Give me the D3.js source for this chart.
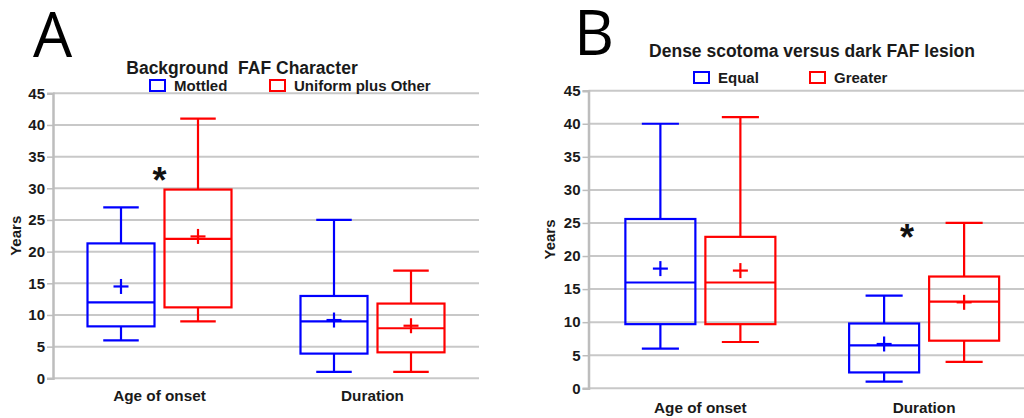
<!DOCTYPE html>
<html>
<head>
<meta charset="utf-8">
<script src="https://cdn.jsdelivr.net/npm/d3@7"></script>
<style>
  html, body { margin: 0; padding: 0; background: #fff; }
  svg { display: block; font-family: 'Liberation Sans', Arial, sans-serif; }
  .lbl { font-weight: bold; fill: #1a1a1a; }
</style>
</head>
<body>
<div id="chart"></div>
<script>
// Box stats per group: [min, q1, median, q3, max, mean], one row per category
const categories = ['Age of onset', 'Duration'];
const yTicks = [0, 5, 10, 15, 20, 25, 30, 35, 40, 45];

const mottled = [[6, 8.2, 12, 21.3, 27, 14.5], [1, 3.9, 9, 13, 25, 9.2]];
const uniformOther = [[9, 11.2, 22, 29.8, 41, 22.4], [1, 4.1, 7.9, 11.8, 17, 8.3]];
const equal = [[6, 9.7, 16, 25.6, 40, 18.1], [1, 2.4, 6.5, 9.8, 14, 6.7]];
const greater = [[7, 9.7, 16, 22.9, 41, 17.8], [4, 7.2, 13.1, 16.9, 25, 13]];

const groupNamesA = ['Mottled', 'Uniform plus Other'];
const groupNamesB = ['Equal', 'Greater'];
const groupColors = ['#0000ff', '#ff0000'];

// significance stars: [category index, y value]
const starA = [0, 32.4];
const starB = [1, 23.9];

const svg = d3.select('#chart').append('svg').attr('width', 1024).attr('height', 418);

const panels = [
  {
    letter: 'A', letterX: 33, letterY: 57,
    title: 'Background  FAF Character', titleX: 242, titleY: 74,
    names: groupNamesA, series: [mottled, uniformOther],
    legend: [149, 269], legendY: 79,
    left: 53, right: 479, top: 93.3, bottom: 378.3,
    boxW: 67, catY: 401, yearsX: 21,
    star: starA, starDx: 0,
  },
  {
    letter: 'B', letterX: 574, letterY: 55,
    title: 'Dense scotoma versus dark FAF lesion', titleX: 812, titleY: 57,
    names: groupNamesB, series: [equal, greater],
    legend: [693, 809], legendY: 71,
    left: 588.5, right: 1036, top: 90.7, bottom: 388.3,
    boxW: 70, catY: 413, yearsX: 555,
    star: starB, starDx: -17,
  },
];

panels.forEach((p) => {
  const g = svg.append('g');

  const y = d3.scaleLinear().domain([0, 45]).range([p.bottom, p.top]);
  const x = d3.scaleBand().domain(categories).range([p.left, p.right]);
  const gap = 10;
  const half = p.boxW + gap / 2;
  const xSub = d3.scaleBand().domain([0, 1])
    .range([-half, half])
    .paddingInner(gap / (p.boxW + gap));

  // gridlines
  g.append('g')
    .selectAll('line')
    .data(yTicks)
    .join('line')
    .attr('x1', p.left)
    .attr('x2', Math.min(p.right, 1024))
    .attr('y1', (d) => y(d))
    .attr('y2', (d) => y(d))
    .attr('stroke', '#c8c8c8')
    .attr('stroke-width', 2);

  // y axis
  const yAxis = g.append('g')
    .attr('transform', `translate(${p.left},0)`)
    .call(d3.axisLeft(y).tickValues(yTicks).tickSize(6).tickPadding(2));
  yAxis.select('.domain').attr('stroke', '#bdbdbd').attr('stroke-width', 2.5);
  yAxis.selectAll('.tick line').attr('stroke', '#bdbdbd').attr('stroke-width', 1.5);
  yAxis.selectAll('.tick text')
    .attr('class', 'lbl')
    .style('font-size', '15px')
    .attr('fill', '#1a1a1a');

  g.append('text')
    .attr('class', 'lbl')
    .attr('transform', `translate(${p.yearsX},${(p.top + p.bottom) / 2}) rotate(-90)`)
    .attr('text-anchor', 'middle')
    .style('font-size', '15px')
    .text('Years');

  // category labels
  g.selectAll('.cat')
    .data(categories)
    .join('text')
    .attr('class', 'lbl')
    .attr('x', (d) => x(d) + x.bandwidth() / 2)
    .attr('y', p.catY)
    .attr('text-anchor', 'middle')
    .style('font-size', '15.3px')
    .text((d) => d);

  // boxes
  p.series.forEach((rows, gi) => {
    const color = groupColors[gi];
    rows.forEach((s, ci) => {
      const [mn, q1, med, q3, mx, mean] = s;
      const x0 = x(categories[ci]) + x.bandwidth() / 2 + xSub(gi);
      const bw = xSub.bandwidth();
      const cx = x0 + bw / 2;
      const cap = bw * 0.53;
      const b = g.append('g')
        .attr('stroke', color)
        .attr('stroke-width', 2.2)
        .attr('fill', 'none');
      b.append('line').attr('x1', cx).attr('x2', cx).attr('y1', y(mx)).attr('y2', y(q3));
      b.append('line').attr('x1', cx).attr('x2', cx).attr('y1', y(q1)).attr('y2', y(mn));
      b.append('line').attr('x1', cx - cap / 2).attr('x2', cx + cap / 2).attr('y1', y(mx)).attr('y2', y(mx));
      b.append('line').attr('x1', cx - cap / 2).attr('x2', cx + cap / 2).attr('y1', y(mn)).attr('y2', y(mn));
      b.append('rect').attr('x', x0).attr('y', y(q3)).attr('width', bw).attr('height', y(q1) - y(q3));
      b.append('line').attr('x1', x0).attr('x2', x0 + bw).attr('y1', y(med)).attr('y2', y(med));
      // mean marker
      b.append('line').attr('x1', cx - 7.5).attr('x2', cx + 7.5).attr('y1', y(mean)).attr('y2', y(mean));
      b.append('line').attr('x1', cx).attr('x2', cx).attr('y1', y(mean) - 7.5).attr('y2', y(mean) + 7.5);
    });
  });

  // significance star
  g.append('text')
    .attr('x', x(categories[p.star[0]]) + x.bandwidth() / 2 + p.starDx)
    .attr('y', y(p.star[1]) + 20)
    .attr('text-anchor', 'middle')
    .style('font-size', '36px')
    .style('font-weight', 'bold')
    .attr('fill', '#111')
    .text('*');

  // panel letter, title, legend
  g.append('text')
    .attr('x', p.letterX)
    .attr('y', p.letterY)
    .style('font-family', "'Open Sans', sans-serif")
    .style('font-size', '62px')
    .attr('fill', '#000')
    .text(p.letter);

  g.append('text')
    .attr('class', 'lbl')
    .attr('x', p.titleX)
    .attr('y', p.titleY)
    .attr('text-anchor', 'middle')
    .attr('xml:space', 'preserve')
    .style('white-space', 'pre')
    .style('font-size', '17.5px')
    .text(p.title);

  p.names.forEach((name, gi) => {
    g.append('rect')
      .attr('x', p.legend[gi] + 1)
      .attr('y', p.legendY + 1)
      .attr('width', 15)
      .attr('height', 11)
      .attr('fill', '#fff')
      .attr('stroke', groupColors[gi])
      .attr('stroke-width', 2);
    g.append('text')
      .attr('class', 'lbl')
      .attr('x', p.legend[gi] + 25)
      .attr('y', p.legendY + 12)
      .style('font-size', '15px')
      .text(name);
  });
});
</script>
</body>
</html>
